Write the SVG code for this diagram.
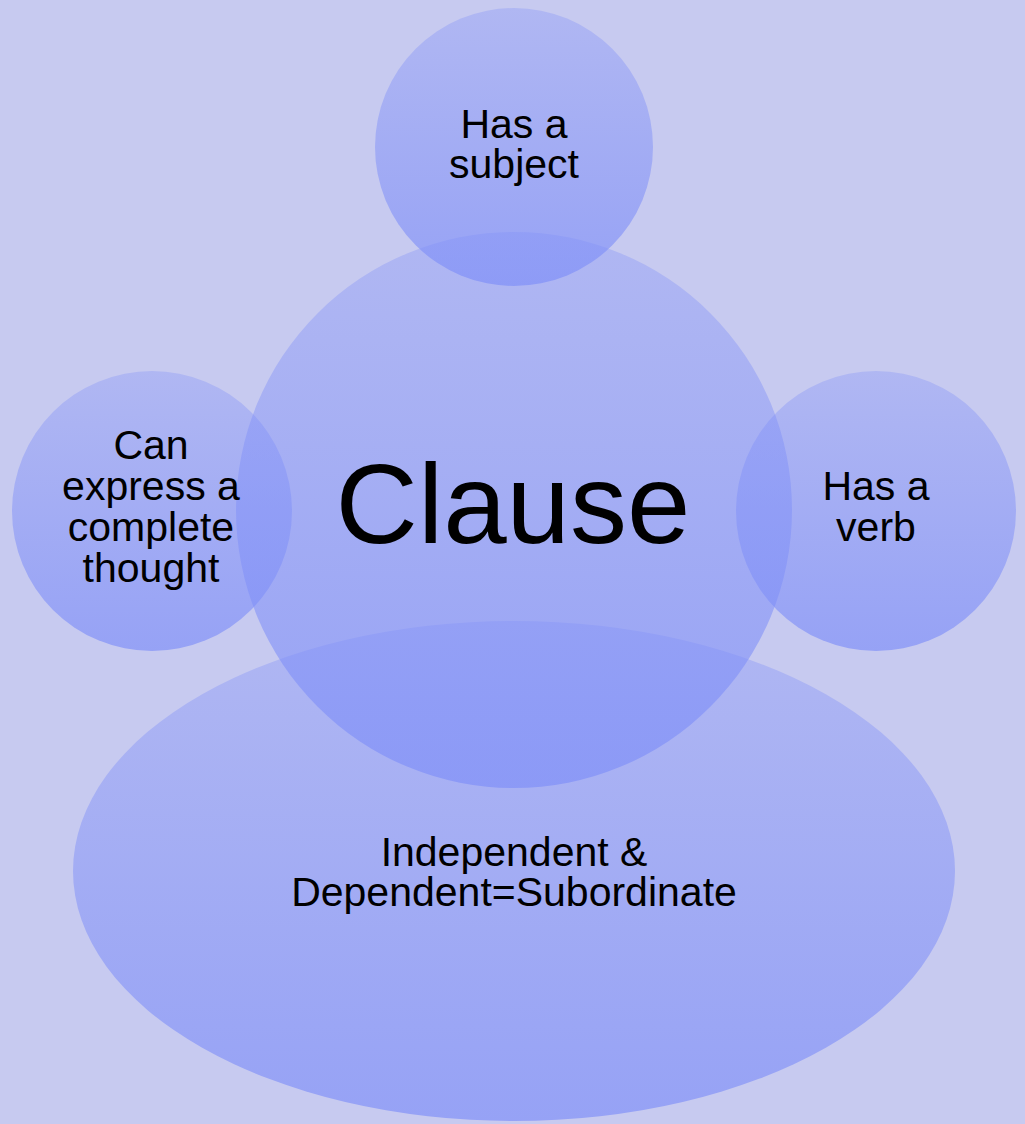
<svg xmlns="http://www.w3.org/2000/svg" width="1025" height="1124" viewBox="0 0 1025 1124">
<style>
.shape{fill:url(#g)}
.t{font-family:"Liberation Sans",Arial,sans-serif;font-size:41px;fill:#000;text-anchor:middle}
.big{font-family:"Liberation Sans",Arial,sans-serif;font-size:114px;fill:#000;text-anchor:middle}
</style>
<defs>
<linearGradient id="g" x1="0" y1="0" x2="0" y2="1">
<stop offset="0" stop-color="#7f8ff8" stop-opacity="0.32"/>
<stop offset="1" stop-color="#7f8ff8" stop-opacity="0.68"/>
</linearGradient>
</defs>
<rect width="1025" height="1124" fill="#c7caf0"/>
<g id="node-types">
<ellipse class="shape" cx="514" cy="871" rx="441" ry="250"/>
<text class="t" x="514" y="866">Independent &amp;</text>
<text class="t" x="514" y="906">Dependent=Subordinate</text>
</g>
<g id="node-clause">
<circle class="shape" cx="514" cy="510" r="278"/>
<text class="big" x="513" y="543">Clause</text>
</g>
<g id="node-subject">
<circle class="shape" cx="514" cy="147" r="139"/>
<text class="t" x="514" y="138">Has a</text>
<text class="t" x="514" y="178">subject</text>
</g>
<g id="node-thought">
<circle class="shape" cx="152" cy="511" r="140"/>
<text class="t" x="151" y="459">Can</text>
<text class="t" x="151" y="500">express a</text>
<text class="t" x="151" y="541">complete</text>
<text class="t" x="151" y="582">thought</text>
</g>
<g id="node-verb">
<circle class="shape" cx="876" cy="511" r="140"/>
<text class="t" x="876" y="500">Has a</text>
<text class="t" x="876" y="541">verb</text>
</g>
</svg>
